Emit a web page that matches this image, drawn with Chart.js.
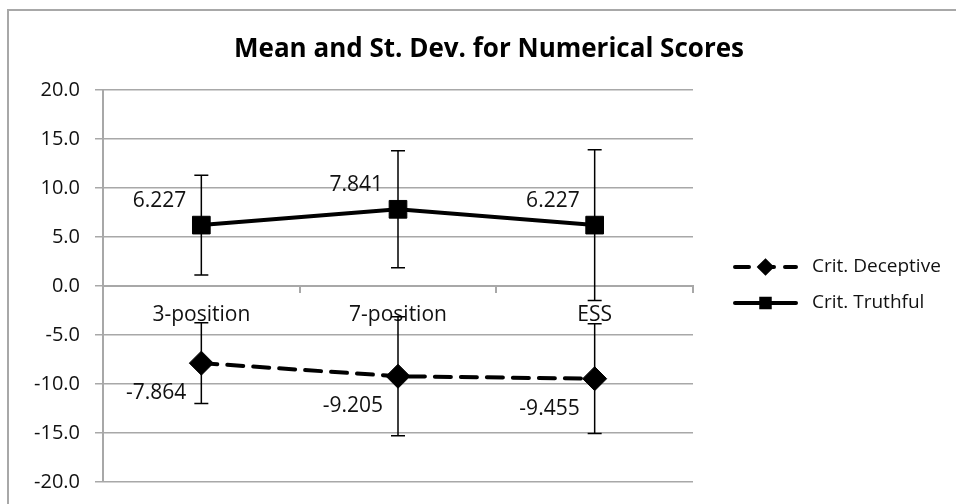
<!DOCTYPE html>
<html>
<head>
<meta charset="utf-8">
<script src="https://cdn.jsdelivr.net/npm/chart.js@4.4.0/dist/chart.umd.min.js"></script>
<style>
    html, body { margin: 0; padding: 0; background: #fff; overflow: hidden; }
    .frame {
        position: absolute; left: 7px; top: 9px; width: 1000px; height: 600px;
        border-left: 2px solid #a8a8a8; border-top: 2px solid #a8a8a8;
    }
    .chart-container { position: absolute; left: 0; top: 0; width: 956px; height: 504px; }
</style>
</head>
<body>
<div class="frame"></div>
<div class="chart-container"><canvas id="scoresChart"></canvas></div>
<script>
const categories = ['3-position', '7-position', 'ESS'];
const deceptiveMean = [-7.864, -9.205, -9.455];
const deceptiveSD = [4.13, 6.07, 5.6];
const truthfulMean = [6.227, 7.841, 6.227];
const truthfulSD = [5.1, 5.97, 7.7];
const yTicks = [-20, -15, -10, -5, 0, 5, 10, 15, 20];

const textColor = '#111';
const gridColor = '#a8a8a8';
Chart.defaults.font.family = "'Open Sans', sans-serif";

// error bars + value labels
const errorBars = {
    id: 'errorBars',
    afterDatasetsDraw(chart) {
        const ctx = chart.ctx;
        const y = chart.scales.y;
        chart.data.datasets.forEach((ds, i) => {
            const meta = chart.getDatasetMeta(i);
            meta.data.forEach((pt, j) => {
                const top = y.getPixelForValue(ds.data[j] + ds.sd[j]);
                const bot = y.getPixelForValue(ds.data[j] - ds.sd[j]);
                ctx.save();
                ctx.strokeStyle = '#000';
                ctx.lineWidth = 1.5;
                ctx.beginPath();
                ctx.moveTo(pt.x, top); ctx.lineTo(pt.x, bot);
                ctx.moveTo(pt.x - 7, top); ctx.lineTo(pt.x + 7, top);
                ctx.moveTo(pt.x - 7, bot); ctx.lineTo(pt.x + 7, bot);
                ctx.stroke();

                ctx.fillStyle = textColor;
                ctx.font = "21px 'Open Sans', sans-serif";
                ctx.textAlign = 'right';
                ctx.textBaseline = 'middle';
                const dy = ds.labelBelow ? 30 : -24;
                ctx.fillText(ds.data[j].toFixed(3), pt.x - 15, pt.y + dy);
                ctx.restore();
            });
        });
    }
};

const sideLegend = {
    id: 'sideLegend',
    afterDraw(chart) {
        const ctx = chart.ctx;
        const area = chart.chartArea;
        const x0 = area.right + 40;
        const x1 = x0 + 65;
        chart.data.datasets.forEach((ds, i) => {
            const yy = 267 + i * 36;
            ctx.save();
            ctx.strokeStyle = '#000';
            ctx.lineWidth = 4;
            ctx.lineCap = 'round';
            ctx.setLineDash(ds.borderDash && ds.borderDash.length ? [14, 11] : []);
            ctx.beginPath();
            ctx.moveTo(x0 + 2, yy); ctx.lineTo(x1 - 2, yy);
            ctx.stroke();
            ctx.setLineDash([]);
            Chart.helpers.drawPoint(ctx, { pointStyle: ds.pointStyle, radius: 6, borderWidth: 1, rotation: 0 }, (x0 + x1) / 2, yy);
            ctx.fillStyle = '#000';
            ctx.fill();
            ctx.fillStyle = textColor;
            ctx.font = "19px 'Open Sans', sans-serif";
            ctx.textAlign = 'left';
            ctx.textBaseline = 'middle';
            ctx.fillText(ds.label, x1 + 14, yy);
            ctx.restore();
        });
    }
};

new Chart(document.getElementById('scoresChart'), {
    type: 'line',
    data: {
        labels: categories,
        datasets: [{
            label: 'Crit. Deceptive',
            data: deceptiveMean,
            sd: deceptiveSD,
            labelBelow: true,
            borderColor: '#000',
            backgroundColor: '#000',
            borderWidth: 4,
            borderDash: [16, 10],
            borderCapStyle: 'round',
            pointStyle: 'rectRot',
            pointRadius: 12,
            pointBorderWidth: 1,
            tension: 0
        }, {
            label: 'Crit. Truthful',
            data: truthfulMean,
            sd: truthfulSD,
            labelBelow: false,
            borderColor: '#000',
            backgroundColor: '#000',
            borderWidth: 4,
            pointStyle: 'rect',
            pointRadius: 12.5,
            pointBorderWidth: 1,
            tension: 0
        }]
    },
    options: {
        responsive: true,
        maintainAspectRatio: false,
        animation: false,
        layout: {
            autoPadding: false,
            padding: { left: 22, top: 0, right: 0, bottom: 22 }
        },
        plugins: {
            legend: { display: false },
            tooltip: { enabled: false },
            title: {
                display: true,
                text: 'Mean and St. Dev. for Numerical Scores',
                color: '#000',
                font: { size: 26, weight: 'bold' },
                padding: { top: 34, bottom: 25 }
            }
        },
        scales: {
            x: {
                position: { y: 0 },
                offset: true,
                grid: {
                    drawOnChartArea: false,
                    offset: true,
                    tickLength: 6,
                    color: gridColor,
                    lineWidth: 2
                },
                border: { color: gridColor, width: 2 },
                ticks: {
                    padding: 10,
                    color: textColor,
                    maxRotation: 0,
                    font: { size: 21 }
                }
            },
            y: {
                min: yTicks[0],
                max: yTicks[yTicks.length - 1],
                afterBuildTicks(scale) {
                    scale.ticks = yTicks.map(v => ({ value: v }));
                },
                afterFit(scale) {
                    scale.width = 81;
                    scale.paddingTop = 0;
                    scale.paddingBottom = 0;
                },
                grid: {
                    color: gridColor,
                    lineWidth: 1.5,
                    tickLength: 8
                },
                border: { color: gridColor, width: 2 },
                ticks: {
                    padding: 15,
                    color: textColor,
                    font: { size: 20 },
                    callback: v => v.toFixed(1)
                }
            },
            spacer: {
                type: 'linear',
                position: 'right',
                grid: { display: false },
                border: { display: false },
                ticks: { display: false },
                afterFit(scale) {
                    scale.width = 263;
                }
            }
        }
    },
    plugins: [errorBars, sideLegend]
});
</script>
</body>
</html>
